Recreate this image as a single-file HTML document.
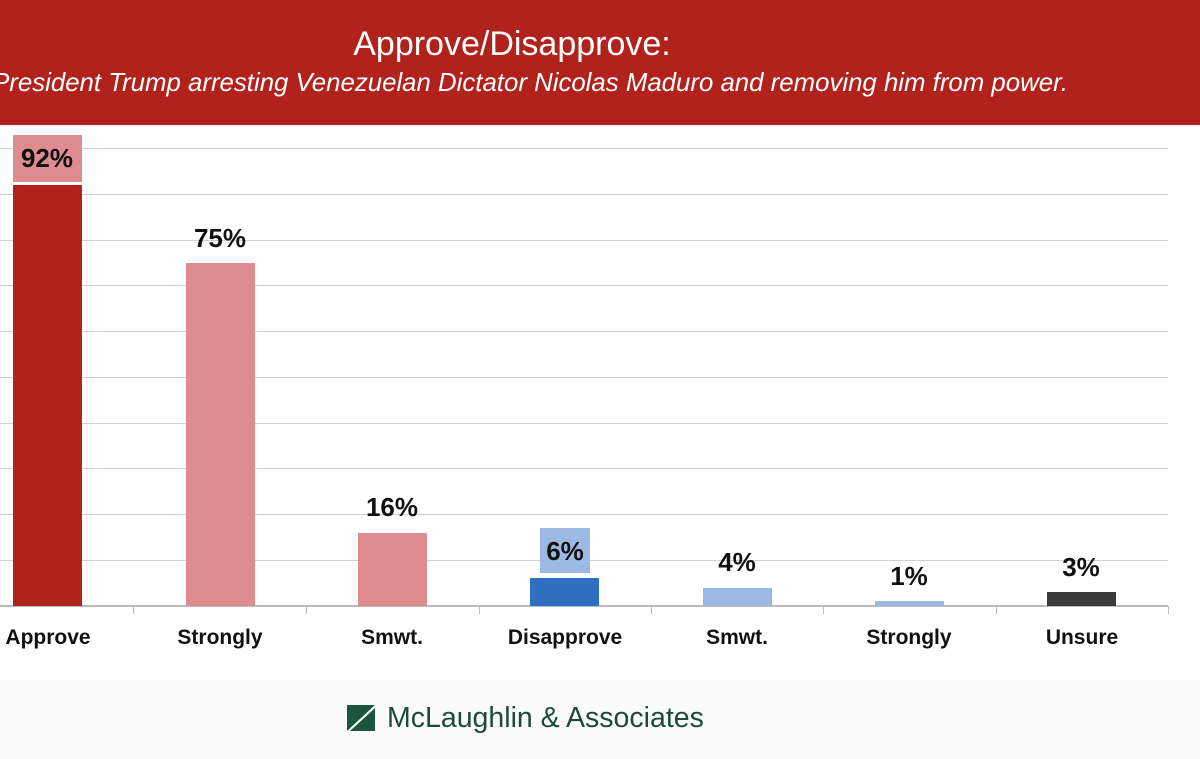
<!DOCTYPE html>
<html><head><style>
body{margin:0;width:1200px;height:759px;overflow:hidden;background:#fff;font-family:"Liberation Sans",sans-serif;position:relative}
.hdr{position:absolute;left:0;top:0;width:1200px;height:125px;background:#b0221b}
.t1{position:absolute;top:25px;left:0;width:1024px;text-align:center;color:#fff;font-size:34px}
.t2{position:absolute;top:69px;left:-120px;width:1300px;text-align:center;color:#fff;font-size:25.8px;font-style:italic;white-space:nowrap}
.g{position:absolute;left:0;width:1168px;height:1px;background:#d0d0d0}
.b{position:absolute;width:69px}
.v{position:absolute;width:100px;text-align:center;font-weight:bold;font-size:26px;color:#111}
.c{position:absolute;top:626px;width:172px;text-align:center;font-weight:bold;font-size:21px;color:#111}
.tk{position:absolute;top:606px;width:1px;height:8px;background:#bbb}
</style></head><body>
<div class="hdr"><div class="t1">Approve/Disapprove:</div><div class="t2">President Trump arresting Venezuelan Dictator Nicolas Maduro and removing him from power.</div></div>
<div class="g" style="top:148px"></div><div class="g" style="top:194px"></div><div class="g" style="top:240px"></div><div class="g" style="top:285px"></div><div class="g" style="top:331px"></div><div class="g" style="top:377px"></div><div class="g" style="top:423px"></div><div class="g" style="top:468px"></div><div class="g" style="top:514px"></div><div class="g" style="top:560px"></div>
<div class="g" style="top:605px;height:2px;background:#bbb"></div>
<div class="tk" style="left:133px"></div><div class="tk" style="left:306px"></div><div class="tk" style="left:479px"></div><div class="tk" style="left:651px"></div><div class="tk" style="left:823px"></div><div class="tk" style="left:996px"></div><div class="tk" style="left:1168px"></div>
<div class="b" style="left:13px;top:185px;height:421px;background:#b0221b"></div>
<div class="b" style="left:186px;top:263px;height:343px;background:#de8c90"></div>
<div class="b" style="left:358px;top:533px;height:73px;background:#de8c90"></div>
<div class="b" style="left:530px;top:578px;height:28px;background:#2f6fc0"></div>
<div class="b" style="left:703px;top:588px;height:18px;background:#9bb9e3"></div>
<div class="b" style="left:875px;top:601px;height:5px;background:#9bb9e3"></div>
<div class="b" style="left:1047px;top:592px;height:14px;background:#3a3a3a"></div>
<div style="position:absolute;left:13px;top:135px;width:69px;height:47px;background:#de8c90"></div>
<div style="position:absolute;left:540px;top:528px;width:50px;height:45px;background:#9bb9e3"></div>
<div class="v" style="left:-3px;top:143px">92%</div>
<div class="v" style="left:170px;top:223px">75%</div>
<div class="v" style="left:342px;top:492px">16%</div>
<div class="v" style="left:515px;top:536px">6%</div>
<div class="v" style="left:687px;top:547px">4%</div>
<div class="v" style="left:859px;top:561px">1%</div>
<div class="v" style="left:1031px;top:552px">3%</div>
<div class="c" style="left:-38px">Approve</div>
<div class="c" style="left:134px">Strongly</div>
<div class="c" style="left:306px">Smwt.</div>
<div class="c" style="left:479px">Disapprove</div>
<div class="c" style="left:651px">Smwt.</div>
<div class="c" style="left:823px">Strongly</div>
<div class="c" style="left:996px">Unsure</div>
<div style="position:absolute;left:0;top:680px;width:1200px;height:79px;background:#fafafa"></div>
<svg style="position:absolute;left:347px;top:705px" width="28" height="26"><polygon points="0,0 28,0 0,26" fill="#1d5640"/><polygon points="28,3 28,26 3,26" fill="#1d5640"/></svg>
<div style="position:absolute;left:387px;top:702px;font-size:28.5px;color:#1d4a3c">McLaughlin &amp; Associates</div>
</body></html>
